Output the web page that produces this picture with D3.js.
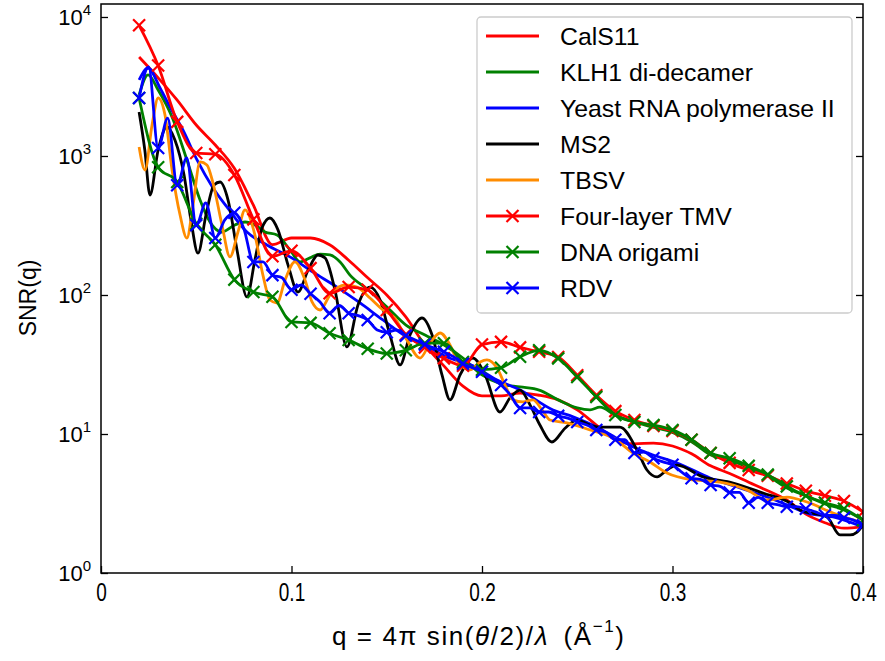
<!DOCTYPE html>
<html><head><meta charset="utf-8">
<script src="https://cdn.jsdelivr.net/npm/d3@7"></script>
<style>body{margin:0;background:#fff}</style>
</head><body><svg id="c" width="885" height="661"></svg>
<script>
// ---------------- data ----------------
const seriesNames = ["CalS11","KLH1 di-decamer","Yeast RNA polymerase II","MS2","TBSV","Four-layer TMV","DNA origami","RDV"];
const seriesColors = ["#ff0000","#008000","#0000ff","#000000","#ff8c00","#ff0000","#008000","#0000ff"];
const seriesMarkers = [false,false,false,false,false,true,true,true];

const qGrid01 = [0.02,0.03,0.04,0.05,0.06,0.07,0.08,0.09,0.10,0.11,0.12,0.13,0.14,0.15,0.16,0.17,0.18,0.19,0.20,0.21,0.22,0.23,0.24,0.25,0.26,0.27,0.28,0.29,0.30,0.31,0.32,0.33,0.34,0.35,0.36,0.37,0.38,0.39,0.40];
const qGrid005 = [0.020,0.025,0.030,0.035,0.040,0.045,0.050,0.055,0.060,0.065,0.070,0.075,0.080,0.085,0.090,0.095,0.100,0.105,0.110,0.115,0.120,0.125,0.130,0.135,0.140,0.145,0.150,0.155,0.160,0.165,0.170,0.175,0.180,0.185,0.190,0.195,0.200,0.205,0.210,0.215,0.220,0.225,0.230,0.235,0.240,0.245,0.250,0.255,0.260,0.265,0.270,0.275,0.280,0.285,0.290,0.295,0.300,0.305,0.310,0.315,0.320,0.325,0.330,0.335,0.340,0.345,0.350,0.355,0.360,0.365,0.370,0.375,0.380,0.385,0.390,0.395,0.400];

const calsQ = qGrid01;
const calsSNR = [5150,3650,2520,1670,1200,815,443,230,257,257,230,178,133,100,69.5,43.7,30.9,22.1,18.8,18.8,19.7,19,17.6,14.9,11.6,9.1,8.5,8.6,8.2,7.2,5.9,5.2,4.5,3.9,3.35,2.65,2.3,2.1,2.15];

const klhQ = [0.020,0.0247,0.030,0.0373,0.0451,0.052,0.0572,0.0635,0.0703,0.0756,0.0808,0.0861,0.0924,0.0992,0.1045,0.1097,0.115,0.1202,0.1255,0.1307,0.1402,0.1501,0.1601,0.1701,0.1801,0.19,0.20,0.21,0.22,0.23,0.24,0.25,0.2567,0.2619,0.2698,0.2798,0.2898,0.2997,0.3102,0.3202,0.3302,0.3402,0.3501,0.3601,0.3701,0.3801,0.39,0.40];
const klhSNR = [2748,3827,2985,1908,936,482,335,284,319,335,319,284,270,211,173,185,197,194,173,139,109,82,60.8,51.5,43.7,35.2,26.6,22.9,21.8,20.7,17.6,15.4,14.9,15.6,13.7,12.2,11.2,10.3,8.76,7.06,6.50,5.69,4.99,4.09,3.58,3.14,2.84,2.41];

const yeastQ = [0.020,0.0247,0.031,0.0362,0.043,0.0504,0.0588,0.0661,0.0766,0.0871,0.0992,0.1113,0.1239,0.136,0.148,0.1606,0.1727,0.1816,0.1953,0.2079,0.22,0.2373,0.2478,0.2604,0.2724,0.2829,0.2898,0.3024,0.3197,0.3354,0.3496,0.3601,0.3706,0.3843,0.40];
const yeastSNR = [3523,4297,3085,2253,1538,936,589,430,284,229,188,146,114,87.6,66.1,49.9,41.6,35.8,30.9,24.5,20.7,14.9,13.3,11.2,9.06,7.67,7.06,6.19,4.83,4.09,3.52,3.09,2.70,2.53,2.14];

const ms2Q = [0.020,0.023,0.0257,0.030,0.0346,0.0388,0.0436,0.0472,0.0509,0.0551,0.0593,0.0625,0.0667,0.0714,0.0766,0.0808,0.0845,0.0887,0.0929,0.0982,0.1034,0.1087,0.1139,0.1176,0.1228,0.1291,0.1349,0.1412,0.1465,0.1517,0.157,0.1622,0.1685,0.1738,0.179,0.1832,0.1885,0.1953,0.2016,0.2094,0.2147,0.22,0.2252,0.2304,0.2367,0.2436,0.2499,0.2567,0.2619,0.2724,0.2814,0.2866,0.2919,0.2971,0.3024,0.316,0.3318,0.3475,0.3617,0.3669,0.3811,0.3879,0.3932,0.3969,0.40];
const ms2SNR = [2074,1105,524,1105,1617,1303,730,347,200,376,618,650,482,211,96.8,179,303,358,294,164,105,151,194,185,109,42.3,84.7,114,92,51.5,31.4,51.5,68.3,51.5,26.6,17.6,26.6,35.2,26.6,14.4,18.2,20.7,16.2,11.6,8.76,11.0,12.6,11.6,11.2,11.2,7.67,5.51,4.91,5.51,5.98,4.91,4.44,3.76,3.19,2.84,2.53,1.88,1.88,1.97,2.21];

const tbsvQ = [0.020,0.0231,0.0268,0.030,0.0336,0.0373,0.0415,0.0451,0.0483,0.052,0.0556,0.0588,0.0635,0.0677,0.0719,0.0756,0.0808,0.085,0.0887,0.0924,0.0966,0.1018,0.1071,0.1108,0.115,0.1202,0.1281,0.1344,0.1412,0.148,0.1543,0.1606,0.1675,0.1727,0.178,0.1832,0.1874,0.1937,0.199,0.2026,0.2079,0.2121,0.2163,0.2215,0.2268,0.2315,0.2357,0.2446,0.2567,0.2688,0.2793,0.2882,0.2971,0.3108,0.3249,0.3391,0.3496,0.3601,0.3706,0.3843,0.40];
const tbsvSNR = [1161,793,1671,2614,1972,793,376,257,444,906,861,639,319,188,284,409,270,139,92,87.6,128,173,128,89.1,78,100,118,114,95.1,78,68.3,47.5,35.2,45.1,53.3,43.7,33.0,28.9,33.0,34.1,29.8,22.5,17.6,17.0,17.6,14.9,12.6,12.0,10.7,9.36,7.30,6.29,5.24,4.67,4.51,3.96,3.35,3.52,3.24,2.70,2.29];

const tmvQ = qGrid01;
const tmvSNR = [8710,4470,1760,1050,1030,730,350,190,208,156,103,114,109,78,52,42,35,31,44,46,42,39,35.8,26.5,19,14.6,12.6,11.4,10.5,9.1,7.3,6.2,5.5,5.0,4.4,3.9,3.6,3.3,2.75];

const dnaQ = qGrid01;
const dnaSNR = [2610,830,650,325,230,129,105,97,64,63,53,47.5,41,38,40,45,45,33,29,30,36,40,35,25.7,18.5,13.7,12.2,11.6,10.7,9.1,7.3,6.7,5.9,5.1,4.2,3.6,3.2,2.9,2.4];

const rdvQ = qGrid005;
const rdvSNR = [2610,4380,1140,1870,615,970,317,460,257,347,390,300,173,173,139,133,109,118,102,89,74,84,74,71,66,56,54,56,51,47.5,44,41.5,39,36,32,30,28,25,22.5,19,15.4,15.4,14.4,14.4,13.5,13,12.2,11.6,10.7,10.3,9.1,9.1,7.3,7.4,6.7,6.3,6.0,5.3,4.8,4.7,4.3,4.2,3.8,3.8,3.2,3.5,3.2,3.1,3.0,3.0,2.9,2.75,2.6,2.6,2.5,2.4,2.2];
const markEvery = [1,1,1,1,1,1,1,2];

const xTicks = [0,0.1,0.2,0.3,0.4];
const xTickLabels = ["0","0.1","0.2","0.3","0.4"];
const yTicks = [1,10,100,1000,10000];
const yTickExp = ["0","1","2","3","4"];

const allQ = [calsQ,klhQ,yeastQ,ms2Q,tbsvQ,tmvQ,dnaQ,rdvQ];
const allSNR = [calsSNR,klhSNR,yeastSNR,ms2SNR,tbsvSNR,tmvSNR,dnaSNR,rdvSNR];

// ---------------- drawing ----------------
const L=101,R=863,T=4,B=573;
const svg = d3.select("#c");
const x = d3.scaleLinear().domain([0,0.4]).range([L,R]);
const y = d3.scaleLog().domain([1,12400]).range([B,T]);
const sans = "'Liberation Sans',Arial,Helvetica,sans-serif";

svg.append("defs").append("clipPath").attr("id","clip")
  .append("rect").attr("x",L).attr("y",T).attr("width",R-L).attr("height",B-T);

const lineGen = d3.line().x(d=>x(d[0])).y(d=>y(d[1])).curve(d3.curveMonotoneX);
const plot = svg.append("g").attr("clip-path","url(#clip)");
allQ.forEach((qs,i)=>{
  const pts = qs.map((q,j)=>[q,allSNR[i][j]]);
  plot.append("path").datum(pts).attr("d",lineGen)
    .attr("fill","none").attr("stroke",seriesColors[i]).attr("stroke-width",2.8)
    .attr("stroke-linejoin","round").attr("stroke-linecap","butt");
  if(seriesMarkers[i]){
    const mk = pts.filter((d,j)=>j%markEvery[i]===0);
    const s=6;
    plot.append("g").selectAll("path").data(mk).join("path")
      .attr("d",d=>{const cx=x(d[0]),cy=y(d[1]);return `M${cx-s},${cy-s}L${cx+s},${cy+s}M${cx-s},${cy+s}L${cx+s},${cy-s}`;})
      .attr("stroke",seriesColors[i]).attr("stroke-width",2.2).attr("fill","none");
  }
});

// axes
const gx = svg.append("g").attr("transform",`translate(0,${B})`)
  .call(d3.axisBottom(x).tickValues(xTicks).tickSizeInner(-7).tickSizeOuter(0).tickPadding(10)
  .tickFormat((d,i)=>xTickLabels[i]));
gx.select(".domain").remove();
gx.selectAll("line").attr("stroke","#000").attr("stroke-width",1.3);
gx.selectAll("text").attr("font-family",sans).attr("font-size",25).attr("fill","#000")
  .attr("transform","scale(0.76,1)");

const gy = svg.append("g").attr("transform",`translate(${L},0)`)
  .call(d3.axisLeft(y).tickValues(yTicks).tickSizeInner(-7).tickSizeOuter(0).tickFormat(()=>""));
gy.select(".domain").remove();
gy.selectAll("line").attr("stroke","#000").attr("stroke-width",1.3);
const gyr = svg.append("g").attr("transform",`translate(${R},0)`)
  .call(d3.axisRight(y).tickValues(yTicks).tickSizeInner(-7).tickSizeOuter(0).tickFormat(()=>""));
gyr.select(".domain").remove();
gyr.selectAll("line").attr("stroke","#000").attr("stroke-width",1.3);

yTicks.forEach((v,i)=>{
  const t = svg.append("text").attr("x",91).attr("y",y(v)+8).attr("text-anchor","end")
    .attr("font-family",sans).attr("font-size",22).attr("fill","#000");
  t.append("tspan").text("10");
  t.append("tspan").attr("font-size",15).attr("dy",-10).text(yTickExp[i]);
});

svg.append("rect").attr("x",L).attr("y",T).attr("width",R-L).attr("height",B-T)
  .attr("fill","none").attr("stroke","#000").attr("stroke-width",1.5);

// axis labels
svg.append("text").attr("transform","translate(36,298) rotate(-90)").attr("text-anchor","middle")
  .attr("font-family",sans).attr("font-size",23).attr("fill","#000").text("SNR(q)");

const xl = svg.append("text").attr("x",332).attr("y",645).attr("text-anchor","start")
  .attr("font-family",sans).attr("font-size",26).attr("fill","#000")
  .attr("textLength",292).attr("lengthAdjust","spacing");
xl.append("tspan").text("q = 4π sin(");
xl.append("tspan").attr("font-style","italic").text("θ");
xl.append("tspan").text("/2)/");
xl.append("tspan").attr("font-style","italic").text("λ");
xl.append("tspan").text("\u2002(Å");
xl.append("tspan").attr("font-size",17).attr("dy",-13).text("−1");
xl.append("tspan").attr("dy",13).text(")");

// legend
const lg = svg.append("g");
lg.append("rect").attr("x",477).attr("y",17).attr("width",375).attr("height",296).attr("rx",4)
  .attr("fill","#fff").attr("fill-opacity",0.8).attr("stroke","#cccccc").attr("stroke-width",1.3);
seriesNames.forEach((n,i)=>{
  const cy = 36 + i*36;
  lg.append("line").attr("x1",486).attr("x2",539).attr("y1",cy).attr("y2",cy)
    .attr("stroke",seriesColors[i]).attr("stroke-width",2.8);
  if(seriesMarkers[i]){
    const cx=512.5,s=6;
    lg.append("path").attr("d",`M${cx-s},${cy-s}L${cx+s},${cy+s}M${cx-s},${cy+s}L${cx+s},${cy-s}`)
      .attr("stroke",seriesColors[i]).attr("stroke-width",2.2);
  }
  lg.append("text").attr("x",560).attr("y",cy+8.5).attr("font-family",sans).attr("font-size",24.8)
    .attr("fill","#000").text(n);
});
</script>
</body></html>
